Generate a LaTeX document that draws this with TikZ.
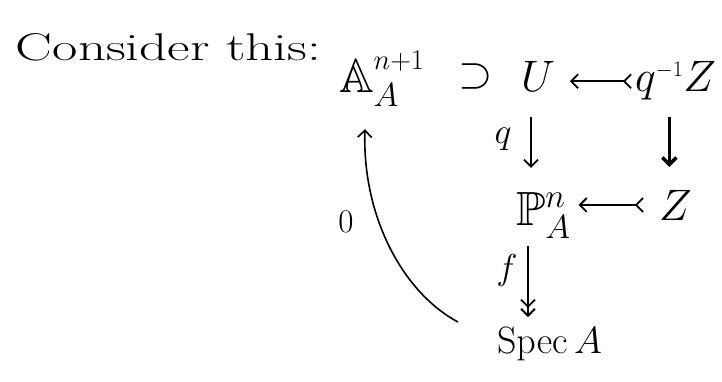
\RequirePackage{fix-cm}
\documentclass[tikz,border=0pt]{standalone}
\usepackage{amssymb}
\usepackage{graphicx}
\usetikzlibrary{arrows.meta}
\begin{document}
\begin{tikzpicture}[x=1pt,y=-1pt,
  line width=1.8pt,
  >={Straight Barb[length=7pt,width=14pt]},
  every node/.style={inner sep=0pt,outer sep=3pt},
  dg/.style={font=\fontsize{44}{48}\selectfont, anchor=base west},
  big/.style={font=\fontsize{48}{52}\selectfont},
  lbl/.style={font=\fontsize{36}{40}\selectfont},
  inj/.style={{Straight Barb[reversed,length=7pt,width=14pt]}-{Straight Barb[length=7pt,width=14pt]}}]
\useasboundingbox (0,0) rectangle (722,382);
\node[anchor=base west, font=\fontsize{44}{48}\selectfont] (cons) at (13,61) {\resizebox{305pt}{27pt}{Consider this:}};
\node[dg, big] (A) at (336,93) {$\mathbb{A}^{\raisebox{6pt}{\scalebox{0.85}{$\scriptstyle n{+}1$}}}_{A}$};
\node[dg] (sup) at (455,88) {$\supset$};
\node[dg] (U) at (518,92) {$U$};
\node[dg] (qZ) at (632,92) {$q^{\scriptscriptstyle -1}Z$};
\node[dg, big] (P) at (513,225) {$\mathbb{P}^{n}_{A}$};
\node[dg] (Z) at (656,220) {$Z$};
\node[dg, font=\fontsize{38}{42}\selectfont] (S) at (494,353) {$\mathrm{Spec}\,A$};
\node[lbl] (lq) at (503,139) {$q$};
\node[lbl] (lf) at (507,270) {$f$};
\node[lbl, font=\fontsize{33}{36}\selectfont] (l0) at (346,222) {$0$};
\draw[inj, shorten >=12pt] (qZ.west) -- (qZ.west -| U.east);
\draw[inj, shorten <=12pt, shorten >=5pt] (Z.west) -- (Z.west -| P.east);
\draw[->, shorten <=22pt, shorten >=21pt] ([xshift=13pt]U.south west) -- ([xshift=13pt]U.south west |- P.north);
\draw[->, line width=3.5pt, shorten <=13pt, shorten >=20pt] ([xshift=-6pt]Z.north |- qZ.south) -- ([xshift=-6pt]Z.north);
\draw[->>, shorten <=5pt, shorten >=7pt] ([xshift=15pt]P.south west) -- ([xshift=15pt]P.south west |- S.north);
\draw[->, line width=1.6pt] ([xshift=-36pt,yshift=2pt]S.north west) .. controls (402,292) and (362,215) .. ([xshift=29pt,yshift=-20pt]A.south west);
\end{tikzpicture}
\end{document}
